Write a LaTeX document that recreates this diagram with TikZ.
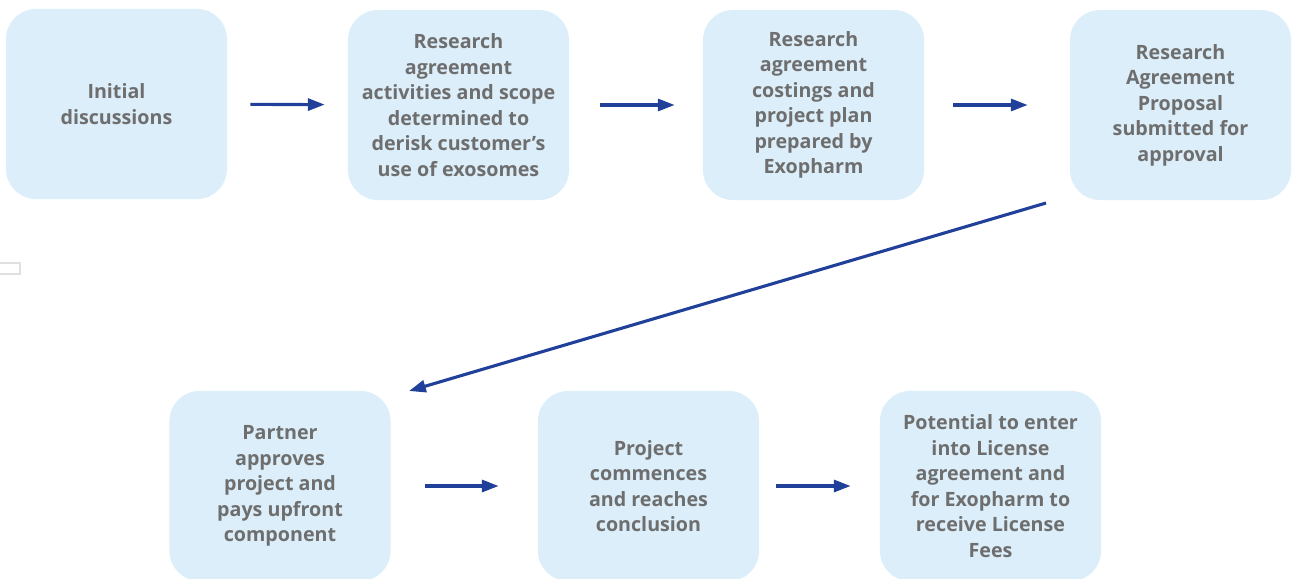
\documentclass[tikz,border=0pt]{standalone}
\usepackage{fontspec}
\setmainfont{Open Sans}
\usetikzlibrary{arrows.meta}
\definecolor{boxfill}{RGB}{219,238,249}
\definecolor{arrowblue}{RGB}{33,64,154}
\definecolor{textgray}{RGB}{110,110,110}
\begin{document}
\begin{tikzpicture}[
        x=0.025cm, y=-0.025cm,
        stage/.style={fill=boxfill, rounded corners=0.75cm, minimum width=5.525cm,
          minimum height=4.75cm, align=center, text=textgray,
          font=\fontsize{14}{18.1}\selectfont\bfseries},
        flow/.style={-{Triangle[length=0.42cm,width=0.3cm]}, line width=2.2pt, arrowblue},
        stub/.style={draw=black!12, line width=1.2pt}
      ]

% Page frame
        \useasboundingbox (0,0) rectangle (1292,578);

% Top row
        \node[stage] (talks) at (116.5,104) {Initial\\discussions};
        \node[stage] (scope) at (458.5,105)
          {Research\\agreement\\activities and scope\\determined to\\derisk customer's\\use of exosomes};
        \node[stage] (costs) at (813.5,105)
          {Research\\agreement\\costings and\\project plan\\prepared by\\Exopharm};
        \node[stage] (proposal) at (1180.5,105)
          {Research\\Agreement\\Proposal\\submitted for\\approval};

% Bottom row
        \node[stage] (approve) at (280,486)
          {Partner\\approves\\project and\\pays upfront\\component};
        \node[stage] (project) at (648.5,486)
          {Project\\commences\\and reaches\\conclusion};
        \node[stage] (license) at (990.5,486)
          {Potential to enter\\into License\\agreement and\\for Exopharm to\\receive License\\Fees};

% Small leftover tab on the left edge
        \draw[stub] (-5,263) rectangle (20,274);

% Arrows along the rows
        \draw[flow, shorten <=0.575cm, shorten >=0.575cm] (talks) -- (scope);
        \draw[flow, shorten <=0.775cm, shorten >=0.7cm] (scope) -- (costs);
        \draw[flow, shorten <=0.725cm, shorten >=1.05cm] (costs) -- (proposal);
        \draw[flow, shorten <=0.85cm, shorten >=0.975cm] (approve) -- (project);
        \draw[flow, shorten <=0.425cm, shorten >=0.725cm] (project) -- (license);

% Turn down to the second row
        \coordinate (down from) at (1046,203);
        \coordinate (down to) at (409,391);
        \draw[flow] (down from) -- (down to);

      \end{tikzpicture}
\end{document}
